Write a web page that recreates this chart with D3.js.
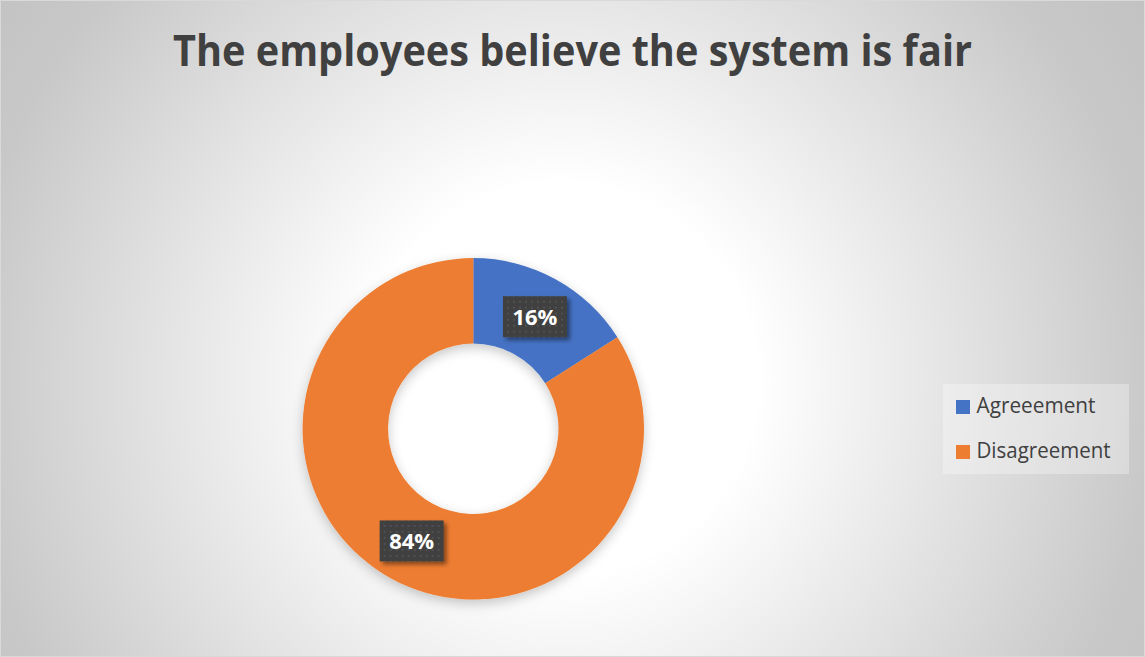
<!DOCTYPE html>
<html>
<head>
<meta charset="utf-8">
<script src="https://cdn.jsdelivr.net/npm/d3@7"></script>
<style>
  html, body { margin: 0; padding: 0; background: #ffffff; }
  svg { display: block; }
</style>
</head>
<body>
<svg id="chart" width="1145" height="657"></svg>
<script>
// Survey answers: share of responses per category
const categories = ["Agreeement", "Disagreement"];
const shares = [16, 84];
const sliceColors = ["#4472C4", "#ED7D31"];
const chartTitle = "The employees believe the system is fair";

const W = 1145, H = 657;
const svg = d3.select("#chart");
const defs = svg.append("defs");

// Background: soft radial wash from white to grey
const bg = defs.append("radialGradient")
  .attr("id", "bgGrad")
  .attr("gradientUnits", "userSpaceOnUse")
  .attr("cx", 560).attr("cy", 380).attr("r", 700);
bg.append("stop").attr("offset", "0").attr("stop-color", "#ffffff");
bg.append("stop").attr("offset", "0.28").attr("stop-color", "#ffffff");
bg.append("stop").attr("offset", "0.85").attr("stop-color", "#c8c8c8");
bg.append("stop").attr("offset", "1").attr("stop-color", "#c2c2c2");

// Dotted fill used behind the data labels
const pat = defs.append("pattern")
  .attr("id", "dots")
  .attr("patternUnits", "userSpaceOnUse")
  .attr("width", 6).attr("height", 6);
pat.append("rect").attr("width", 6).attr("height", 6).attr("fill", "#404040");
pat.append("circle").attr("cx", 3).attr("cy", 3).attr("r", 1).attr("fill", "#565656");

// Shadows
const ringShadow = defs.append("filter").attr("id", "ringShadow")
  .attr("x", "-20%").attr("y", "-20%").attr("width", "140%").attr("height", "140%");
ringShadow.append("feDropShadow")
  .attr("dx", 0).attr("dy", 4).attr("stdDeviation", 6)
  .attr("flood-color", "#000").attr("flood-opacity", 0.22);

const boxShadow = defs.append("filter").attr("id", "boxShadow")
  .attr("x", "-30%").attr("y", "-30%").attr("width", "160%").attr("height", "160%");
boxShadow.append("feDropShadow")
  .attr("dx", 3).attr("dy", 3).attr("stdDeviation", 2)
  .attr("flood-color", "#000").attr("flood-opacity", 0.45);

svg.append("rect")
  .attr("x", 0.5).attr("y", 0.5)
  .attr("width", W - 1).attr("height", H - 1)
  .attr("fill", "url(#bgGrad)")
  .attr("stroke", "#d9d9d9");

// Title, squeezed to the width of a narrow humanist bold face
svg.append("text")
  .attr("x", W / 2).attr("y", 66)
  .attr("text-anchor", "middle")
  .attr("font-family", "'Open Sans', 'DejaVu Sans', sans-serif")
  .attr("font-weight", 700)
  .attr("font-size", 43)
  .attr("fill", "#404040")
  .attr("textLength", 799)
  .attr("lengthAdjust", "spacingAndGlyphs")
  .text(chartTitle);

// Donut
const cx = 473.3, cy = 428.8;
const outerR = 170.7, innerR = 85.2;

const pie = d3.pie().sort(null).value(d => d)(shares);
const arc = d3.arc().innerRadius(innerR).outerRadius(outerR);

const g = svg.append("g").attr("transform", `translate(${cx},${cy})`);

g.append("g").attr("filter", "url(#ringShadow)")
  .selectAll("path")
  .data(pie)
  .join("path")
  .attr("d", arc)
  .attr("fill", (d, i) => sliceColors[i]);

// Data labels in dark dotted boxes at slice centroids
const total = d3.sum(shares);
const lbl = g.selectAll("g.lbl")
  .data(pie)
  .join("g")
  .attr("class", "lbl")
  .attr("transform", d => {
    const [x, y] = arc.centroid(d);
    return `translate(${x},${y})`;
  });

const boxW = 64, boxH = 41;
lbl.append("rect")
  .attr("x", -boxW / 2).attr("y", -boxH / 2)
  .attr("width", boxW).attr("height", boxH)
  .attr("fill", "url(#dots)")
  .attr("filter", "url(#boxShadow)");

lbl.append("text")
  .attr("x", 0).attr("y", 8)
  .attr("text-anchor", "middle")
  .attr("font-family", "'Open Sans', 'DejaVu Sans', sans-serif")
  .attr("font-weight", 700)
  .attr("font-size", 21)
  .attr("fill", "#ffffff")
  .attr("textLength", 45)
  .attr("lengthAdjust", "spacingAndGlyphs")
  .text(d => Math.round(d.value / total * 100) + "%");

// Legend
const legend = svg.append("g");
legend.append("rect")
  .attr("x", 943).attr("y", 384)
  .attr("width", 186).attr("height", 90)
  .attr("fill", "#ffffff").attr("fill-opacity", 0.3);

const legendWidths = [119, 134];
const item = legend.selectAll("g.item")
  .data(categories)
  .join("g")
  .attr("class", "item")
  .attr("transform", (d, i) => `translate(956,${400 + i * 45})`);

item.append("rect")
  .attr("x", 0).attr("y", 0)
  .attr("width", 14).attr("height", 14)
  .attr("fill", (d, i) => sliceColors[i]);

item.append("text")
  .attr("x", 20.5).attr("y", 12.7)
  .attr("font-family", "'Open Sans', 'DejaVu Sans', sans-serif")
  .attr("font-size", 21)
  .attr("fill", "#404040")
  .attr("textLength", (d, i) => legendWidths[i])
  .attr("lengthAdjust", "spacingAndGlyphs")
  .text(d => d);
</script>
</body>
</html>
